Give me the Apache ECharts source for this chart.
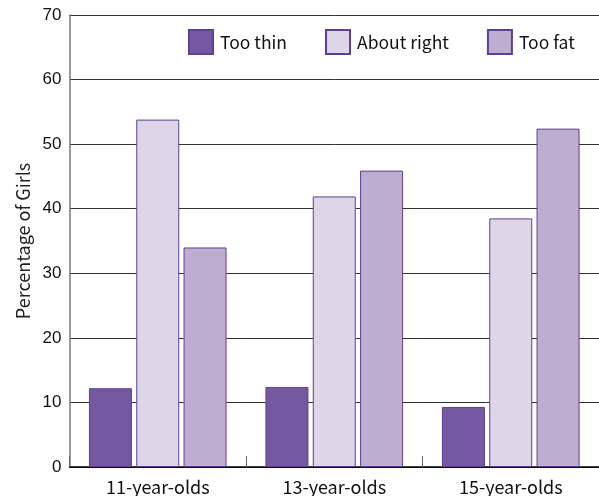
<!DOCTYPE html>
<html>
<head>
<meta charset="utf-8">
<script src="https://cdn.jsdelivr.net/npm/echarts@6/dist/echarts.min.js"></script>
<style>
  html, body { margin: 0; padding: 0; background: #ffffff; }
  #chart { width: 599px; height: 496px; }
</style>
</head>
<body>
<div id="chart"></div>
<script>
// Age groups along the x axis
const categories = ['11-year-olds', '13-year-olds', '15-year-olds'];

// Share of girls (%) who think they are...
const tooThin = [12.2, 12.4, 9.3];
const aboutRight = [53.8, 41.9, 38.5];
const tooFat = [34.0, 45.9, 52.4];

const yTicks = { min: 0, max: 70, step: 10 };

const FONT = '"Noto Sans CJK KR", "Noto Sans", sans-serif';
const NUM_FONT = '"Liberation Sans", Arial, sans-serif';
const EDGE = '#5d3f93';

function barSeries(name, data, fill) {
  return {
    name: name,
    type: 'bar',
    data: data,
    barWidth: 43,
    barGap: '10%',
    itemStyle: { color: fill, borderColor: EDGE, borderWidth: 1 }
  };
}

const chart = echarts.init(document.getElementById('chart'), null, { renderer: 'canvas' });
chart.setOption({
  animation: false,
  backgroundColor: '#ffffff',
  textStyle: { fontFamily: FONT },
  grid: { left: 69.5, top: 15, width: 531, height: 453, containLabel: false },
  legend: {
    top: 29,
    left: 188,
    padding: 0,
    itemWidth: 24,
    itemHeight: 24,
    itemGap: 38,
    icon: 'rect',
    textStyle: { fontSize: 17.5, color: '#111', fontFamily: FONT, padding: [0, 0, 0, 2] },
    data: ['Too thin', 'About right', 'Too fat']
  },
  xAxis: {
    type: 'category',
    data: categories,
    axisLine: { lineStyle: { color: '#000', width: 1.5 } },
    axisTick: { show: true, inside: true, length: 11, lineStyle: { color: '#666' } },
    axisLabel: { fontSize: 18, color: '#111', margin: 11, fontFamily: FONT }
  },
  yAxis: {
    type: 'value',
    min: yTicks.min,
    max: yTicks.max,
    interval: yTicks.step,
    name: 'Percentage of Girls',
    nameLocation: 'middle',
    nameGap: 33,
    nameTextStyle: { fontSize: 18, color: '#222', fontFamily: FONT },
    axisLine: { show: true, lineStyle: { color: '#777', width: 1.5 } },
    axisTick: { show: false },
    axisLabel: { fontSize: 17, color: '#111', margin: 8, fontFamily: NUM_FONT },
    splitLine: { show: true, lineStyle: { color: '#333', width: 1 } }
  },
  series: [
    barSeries('Too thin', tooThin, '#7459a2'),
    barSeries('About right', aboutRight, '#ddd6e9'),
    barSeries('Too fat', tooFat, '#bcadd1')
  ]
});
</script>
</body>
</html>
